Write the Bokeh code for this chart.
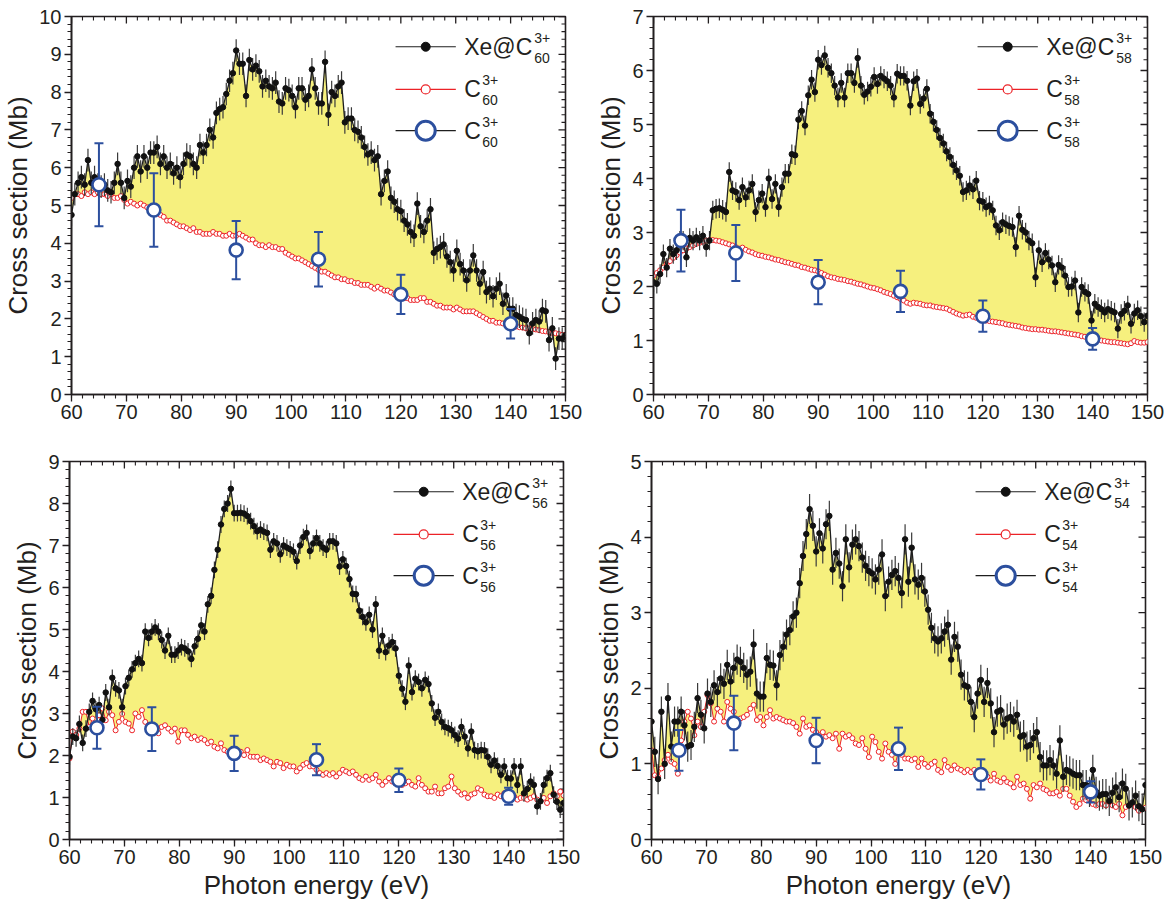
from bokeh.plotting import figure
from bokeh.models import Range1d, FixedTicker, Label
from bokeh.layouts import column, row
from bokeh.embed import file_html
from bokeh.resources import INLINE

# ---------------- data ----------------
E_START = 60.0
E_STEP = 0.6   # eV between successive measured points

# Xe@C60 3+ (Mb), one row = 3 eV
xe_c60 = [4.75, 5.30, 5.60, 5.75, 5.55,
          6.20, 5.60, 5.75, 5.55, 5.50,
          5.55, 5.40, 5.35, 5.60, 6.10,
          5.60, 5.20, 5.65, 5.50, 6.00,
          6.30, 5.90, 6.30, 6.00, 6.40,
          6.40, 6.55, 6.10, 6.30, 6.00,
          6.10, 5.85, 6.00, 5.75, 6.10,
          6.35, 6.30, 6.10, 6.00, 6.60,
          6.40, 6.60, 7.00, 6.80, 7.45,
          7.55, 7.60, 7.95, 8.30, 8.50,
          9.10, 8.75, 8.75, 7.90, 8.85,
          8.60, 8.70, 8.55, 8.15, 8.30,
          8.15, 8.10, 8.25, 7.75, 7.70,
          8.10, 8.05, 7.90, 7.60, 8.10,
          8.10, 7.80, 7.90, 8.60, 8.10,
          7.70, 7.70, 8.80, 7.40, 8.00,
          7.90, 8.15, 8.25, 7.20, 7.30,
          7.30, 7.00, 6.95, 6.80, 6.55,
          6.35, 6.40, 6.20, 6.30, 5.30,
          5.65, 5.90, 5.20, 5.10, 4.90,
          4.85, 4.60, 4.50, 4.30, 4.20,
          5.05, 4.45, 4.30, 4.60, 4.90,
          3.75, 3.85, 3.90, 3.97, 3.65,
          3.50, 3.28, 3.80, 3.45, 3.28,
          3.02, 3.28, 3.68, 3.28, 2.93,
          3.24, 2.71, 2.80, 2.60, 2.80,
          2.93, 2.40, 2.62, 2.27, 2.27,
          2.10, 2.06, 2.00, 1.97, 1.62,
          1.88, 1.97, 1.93, 2.23, 2.20,
          1.44, 1.75, 0.95, 1.48, 1.48,
          1.57]
c60 = [5.20, 5.30, 5.30, 5.25, 5.35,
       5.30, 5.35, 5.30, 5.35, 5.30,
       5.30, 5.25, 5.30, 5.20, 5.20,
       5.25, 5.15, 5.05, 5.10, 5.05,
       5.00, 5.05, 5.00, 4.95, 4.95,
       4.90, 4.80, 4.75, 4.70, 4.60,
       4.60, 4.55, 4.50, 4.45, 4.45,
       4.40, 4.35, 4.40, 4.30, 4.30,
       4.25, 4.25, 4.25, 4.30, 4.25,
       4.25, 4.20, 4.20, 4.25, 4.20,
       4.20, 4.25, 4.20, 4.15, 4.10,
       4.10, 4.00, 3.95, 3.95, 3.90,
       3.95, 3.90, 3.90, 3.85, 3.85,
       3.75, 3.70, 3.65, 3.60, 3.60,
       3.55, 3.50, 3.45, 3.40, 3.35,
       3.30, 3.25, 3.25, 3.20, 3.15,
       3.10, 3.10, 3.05, 3.05, 3.00,
       3.00, 2.95, 2.95, 2.90, 2.90,
       2.90, 2.85, 2.80, 2.85, 2.80,
       2.75, 2.75, 2.70, 2.65, 2.65,
       2.60, 2.55, 2.55, 2.50, 2.50,
       2.50, 2.55, 2.55, 2.45, 2.45,
       2.40, 2.35, 2.35, 2.30, 2.30,
       2.30, 2.25, 2.30, 2.25, 2.20,
       2.20, 2.20, 2.20, 2.15, 2.10,
       2.05, 2.00, 1.95, 1.95, 1.90,
       1.90, 1.88, 1.90, 1.85, 1.83,
       1.80, 1.78, 1.77, 1.75, 1.75,
       1.73, 1.72, 1.70, 1.68, 1.67,
       1.65, 1.63, 1.62, 1.60, 1.58,
       1.57]

xe_c58 = [2.08, 2.05, 2.23, 2.60, 2.35,
          2.70, 2.60, 2.67, 2.85, 2.85,
          2.54, 2.90, 2.85, 2.91, 2.85,
          2.94, 2.73, 2.85, 3.41, 3.44,
          3.45, 3.42, 3.38, 4.12, 3.78,
          3.75, 3.60, 3.84, 3.65, 3.78,
          3.90, 3.38, 3.60, 3.72, 3.47,
          4.00, 3.62, 3.90, 3.47, 3.84,
          4.09, 4.09, 4.45, 4.43, 5.09,
          5.25, 4.98, 5.54, 5.83, 5.60,
          6.20, 6.10, 6.28, 6.05, 5.95,
          5.72, 5.50, 5.77, 5.50, 5.95,
          5.95, 5.77, 6.23, 5.72, 5.55,
          5.61, 5.70, 5.88, 5.75, 5.90,
          5.85, 5.80, 5.72, 5.50, 5.94,
          5.90, 5.90, 5.81, 5.35, 5.80,
          5.85, 5.38, 5.48, 5.66, 5.20,
          5.05, 4.90, 4.75, 4.65, 4.50,
          4.40, 4.25, 4.15, 4.05, 3.75,
          3.78, 3.87, 3.80, 3.96, 3.59,
          3.57, 3.47, 3.50, 3.41, 3.13,
          3.04, 3.19, 3.15, 3.12, 3.10,
          2.73, 3.31, 3.05, 3.00, 2.85,
          2.80, 2.17, 2.67, 2.45, 2.62,
          2.50, 2.39, 2.08, 2.40, 2.35,
          2.20, 1.99, 2.00, 2.11, 1.52,
          1.99, 1.90, 1.86, 1.37, 1.68,
          1.62, 1.58, 1.52, 1.58, 1.55,
          1.52, 1.22, 1.49, 1.55, 1.65,
          1.31, 1.50, 1.56, 1.45, 1.34,
          1.46]
c58 = [2.20, 2.25, 2.30, 2.35, 2.42,
       2.47, 2.53, 2.58, 2.63, 2.67,
       2.70, 2.73, 2.76, 2.79, 2.81,
       2.83, 2.85, 2.86, 2.86, 2.85,
       2.84, 2.82, 2.80, 2.78, 2.76,
       2.73, 2.70, 2.72, 2.68, 2.65,
       2.63, 2.60, 2.58, 2.57, 2.55,
       2.54, 2.52, 2.50, 2.49, 2.47,
       2.45, 2.44, 2.42, 2.40, 2.39,
       2.36, 2.35, 2.33, 2.31, 2.30,
       2.28, 2.25, 2.22, 2.19, 2.17,
       2.16, 2.14, 2.13, 2.12, 2.10,
       2.09, 2.07, 2.05, 2.04, 2.02,
       2.00, 1.98, 1.97, 1.95, 1.93,
       1.90, 1.88, 1.86, 1.83, 1.80,
       1.77, 1.74, 1.70, 1.68, 1.70,
       1.69, 1.68, 1.66, 1.65, 1.65,
       1.63, 1.62, 1.61, 1.60, 1.59,
       1.56, 1.53, 1.50, 1.48, 1.46,
       1.47, 1.48, 1.44, 1.42, 1.40,
       1.39, 1.37, 1.36, 1.35, 1.34,
       1.33, 1.32, 1.30, 1.29, 1.28,
       1.27, 1.26, 1.24, 1.23, 1.22,
       1.21, 1.21, 1.20, 1.20, 1.19,
       1.18, 1.17, 1.17, 1.16, 1.15,
       1.14, 1.13, 1.12, 1.11, 1.10,
       1.08, 1.07, 1.06, 1.04, 1.03,
       1.02, 1.00, 0.99, 0.98, 0.97,
       0.97, 0.96, 0.95, 0.94, 0.93,
       0.95, 0.99, 0.97, 0.96, 0.96,
       0.97]

xe_c56 = [1.97, 2.45, 2.41, 2.75, 2.30,
          2.64, 3.04, 3.30, 3.10, 3.20,
          2.85, 3.50, 3.15, 3.85, 3.60,
          3.55, 3.15, 3.65, 3.85, 4.05,
          4.20, 4.30, 4.20, 4.95, 4.80,
          4.95, 5.05, 4.95, 4.75, 4.50,
          4.85, 4.40, 4.40, 4.50, 4.58,
          4.55, 4.48, 4.30, 4.60, 4.78,
          5.10, 4.95, 5.60, 5.80, 6.42,
          6.90, 7.50, 7.87, 8.00, 8.35,
          7.77, 7.77, 7.78, 7.76, 7.70,
          7.58, 7.46, 7.34, 7.38, 7.33,
          7.30, 6.90, 7.10, 7.05, 6.79,
          7.00, 6.95, 6.91, 6.85, 6.63,
          7.00, 7.20, 7.30, 6.87, 7.05,
          7.18, 7.05, 6.95, 6.90, 7.10,
          7.10, 7.05, 6.50, 6.67, 6.51,
          6.20, 5.85, 5.84, 5.45, 5.30,
          5.17, 5.35, 5.00, 5.60, 4.50,
          4.85, 4.46, 4.62, 4.70, 4.55,
          3.90, 3.59, 3.28, 4.14, 3.51,
          3.83, 3.75, 3.60, 3.80, 3.70,
          3.24, 2.90, 3.04, 2.80, 2.68,
          2.65, 2.60, 2.49, 2.40, 2.68,
          2.45, 2.17, 2.57, 2.13, 2.10,
          2.13, 2.12, 1.97, 1.78, 1.88,
          1.75, 1.54, 1.74, 1.46, 1.45,
          1.74, 1.30, 1.74, 1.10, 1.20,
          1.38, 1.30, 0.79, 0.91, 1.30,
          1.46, 1.58, 1.07, 0.90, 0.71,
          0.87]
c56 = [1.93, 2.57, 2.49, 2.64, 3.04,
       3.04, 2.68, 2.88, 2.76, 2.96,
       3.12, 2.84, 3.04, 2.96, 2.60,
       2.80, 2.99, 2.80, 2.76, 2.60,
       3.00, 2.92, 3.08, 2.80, 2.72,
       2.64, 2.64, 2.53, 2.68, 2.72,
       2.64, 2.57, 2.64, 2.33, 2.60,
       2.60, 2.49, 2.41, 2.45, 2.37,
       2.41, 2.37, 2.29, 2.33, 2.21,
       2.17, 2.29, 2.13, 2.09, 2.05,
       2.07, 2.05, 2.09, 2.01, 2.13,
       1.97, 1.97, 1.97, 1.89, 1.93,
       1.89, 1.85, 1.74, 1.85, 1.82,
       1.70, 1.78, 1.74, 1.74, 1.62,
       1.70, 1.78, 1.82, 1.74, 1.74,
       1.66, 1.58, 1.54, 1.58, 1.54,
       1.58, 1.50, 1.58, 1.66, 1.62,
       1.58, 1.62, 1.54, 1.46, 1.42,
       1.50, 1.42, 1.46, 1.54, 1.38,
       1.30, 1.38, 1.46, 1.38, 1.34,
       1.38, 1.30, 1.34, 1.38, 1.30,
       1.26, 1.46, 1.30, 1.22, 1.14,
       1.14, 1.26, 1.10, 1.10, 1.22,
       1.26, 1.50, 1.22, 1.14, 1.07,
       1.10, 0.99, 1.07, 1.10, 1.22,
       1.18, 1.07, 1.03, 1.03, 0.99,
       1.07, 1.03, 1.10, 1.07, 1.03,
       1.03, 0.95, 0.99, 0.99, 0.95,
       0.99, 1.03, 0.95, 0.91, 0.99,
       0.87, 1.03, 1.10, 1.03, 1.14,
       1.05]

xe_c54 = [1.56, 1.16, 0.80, 1.69, 1.00,
          1.87, 1.23, 1.56, 1.56, 1.69,
          1.51, 1.23, 1.25, 1.49, 1.87,
          1.65, 1.47, 1.93, 1.82, 2.04,
          1.95, 2.13, 2.06, 2.31, 2.09,
          2.27, 2.38, 2.35, 2.27, 2.18,
          2.22, 2.58, 1.93, 1.89, 1.89,
          2.40, 2.31, 2.30, 2.04, 2.44,
          2.55, 2.71, 2.77, 2.95, 3.00,
          3.39, 3.75, 4.04, 4.37, 4.15,
          3.81, 4.05, 3.85, 4.17, 4.28,
          3.57, 3.79, 3.65, 3.35, 3.97,
          3.60, 3.90, 3.97, 3.88, 3.73,
          3.62, 3.55, 3.52, 3.44, 3.57,
          3.77, 3.22, 3.41, 3.50, 3.55,
          3.46, 3.26, 3.97, 3.41, 3.86,
          3.44, 3.37, 3.46, 3.28, 3.04,
          2.80, 2.66, 2.62, 2.66, 2.75,
          2.84, 2.38, 2.68, 2.55, 2.18,
          2.04, 2.02, 1.82, 1.62, 1.93,
          2.11, 1.82, 2.07, 1.80, 1.42,
          1.69, 1.71, 1.52, 1.60, 1.62,
          1.56, 1.65, 1.36, 1.38, 1.23,
          1.25, 1.34, 1.42, 1.09, 0.98,
          0.98, 1.05, 0.98, 0.87, 1.31,
          0.83, 0.92, 0.90, 0.87, 0.85,
          0.85, 0.72, 0.72, 0.63, 0.92,
          0.63, 0.58, 0.60, 0.60, 0.51,
          0.62, 0.69, 0.56, 0.74, 0.67,
          0.45, 0.49, 0.58, 0.44, 0.40,
          0.72]
c54 = [1.18, 0.85, 0.83, 0.94, 1.05,
       1.12, 1.03, 1.00, 0.87, 1.31,
       1.56, 1.69, 1.60, 1.38, 1.56,
       1.49, 1.69, 1.91, 1.80, 1.56,
       1.73, 1.69, 1.56, 1.82, 1.73,
       1.69, 1.54, 1.60, 1.62, 1.65,
       1.73, 1.78, 1.58, 1.62, 1.51,
       1.62, 1.71, 1.60, 1.62, 1.60,
       1.58, 1.56, 1.56, 1.54, 1.49,
       1.40, 1.60, 1.49, 1.51, 1.45,
       1.42, 1.38, 1.42, 1.36, 1.38,
       1.34, 1.40, 1.20, 1.40, 1.36,
       1.38, 1.34, 1.27, 1.25, 1.34,
       1.20, 1.09, 1.36, 1.29, 1.16,
       1.07, 1.27, 1.16, 1.12, 1.00,
       1.16, 1.12, 1.07, 1.07, 1.05,
       1.07, 0.96, 1.07, 1.00, 0.96,
       1.00, 1.03, 0.92, 0.89, 1.05,
       0.96, 0.92, 0.98, 0.94, 0.92,
       0.89, 0.92, 0.89, 0.92, 0.87,
       0.87, 0.85, 0.83, 0.78, 0.87,
       0.78, 0.76, 0.81, 0.76, 0.74,
       0.69, 0.83, 0.72, 0.74, 0.67,
       0.54, 0.72, 0.69, 0.74, 0.67,
       0.65, 0.61, 0.61, 0.63, 0.58,
       0.67, 0.67, 0.58, 0.50, 0.43,
       0.47, 0.54, 0.52, 0.54, 0.47,
       0.45, 0.47, 0.47, 0.45, 0.50,
       0.45, 0.43, 0.47, 0.32, 0.43,
       0.45, 0.47, 0.43, 0.38, 0.41,
       0.42]

# typical uncertainty of the Xe@Cn points in each panel (Mb)
xe_err = [0.30, 0.18, 0.20, 0.20]

# bare-fullerene absolute measurements (large open circles)
abs_energy = [65, 75, 90, 105, 120, 140]
abs_c60 = [5.55, 4.88, 3.82, 3.58, 2.65, 1.87]
abs_c60_err = [1.10, 0.97, 0.77, 0.72, 0.52, 0.39]
abs_c58 = [2.85, 2.62, 2.08, 1.91, 1.45, 1.03]
abs_c58_err = [0.57, 0.52, 0.41, 0.38, 0.29, 0.20]
abs_c56 = [2.66, 2.63, 2.05, 1.90, 1.41, 1.03]
abs_c56_err = [0.50, 0.52, 0.42, 0.37, 0.28, 0.20]
abs_c54 = [1.18, 1.54, 1.31, 1.20, 0.86, 0.63]
abs_c54_err = [0.27, 0.36, 0.30, 0.28, 0.20, 0.14]

sizes = ["60", "58", "56", "54"]
y_max = [10, 7, 9, 5]
x_ticks = [60, 70, 80, 90, 100, 110, 120, 130, 140, 150]

# ---------------- style ----------------
FONT = "Liberation Sans"
INK = "#231f20"
YELLOW = "#f6f07e"
RED = "#ec2227"
BLUE = "#2c4f9e"
FRAME_W, FRAME_H = 494, 378


def style_axis(ax):
    ax.axis_line_color = INK
    ax.axis_line_width = 1.6
    ax.major_tick_line_color = INK
    ax.major_tick_line_width = 1.3
    ax.minor_tick_line_color = INK
    ax.minor_tick_line_width = 1.1
    ax.major_tick_in, ax.major_tick_out = 0, 7
    ax.minor_tick_in, ax.minor_tick_out = 0, 4
    ax.major_label_text_font = FONT
    ax.major_label_text_color = INK
    ax.major_label_text_font_size = "20px"
    ax.major_label_standoff = 3
    ax.axis_label_text_font = FONT
    ax.axis_label_text_font_style = "normal"
    ax.axis_label_text_font_size = "26px"
    ax.axis_label_text_color = INK
    ax.axis_label_standoff = 3


def make_panel(k, black, red, abs_y, abs_err, show_xlabel, left, right):
    ymax = y_max[k]
    p = figure(frame_width=FRAME_W, frame_height=FRAME_H,
               x_range=Range1d(60, 150), y_range=Range1d(0, ymax),
               output_backend="svg", toolbar_location=None,
               min_border_left=left, min_border_right=right,
               min_border_top=16, min_border_bottom=60 if show_xlabel else 51)
    p.xgrid.visible = False
    p.ygrid.visible = False
    p.outline_line_color = INK
    p.outline_line_width = 1.6
    p.background_fill_color = "white"
    p.border_fill_color = "white"

    y_minor = [round(0.2 * i, 1) for i in range(ymax * 5 + 1)]
    x_minor = list(range(60, 151, 2))
    p.xaxis.ticker = FixedTicker(ticks=x_ticks, minor_ticks=x_minor)
    p.yaxis.ticker = FixedTicker(ticks=list(range(0, ymax + 1)), minor_ticks=y_minor)
    style_axis(p.xaxis[0])
    style_axis(p.yaxis[0])
    p.yaxis.axis_label = "Cross section (Mb)"
    if show_xlabel:
        p.xaxis.axis_label = "Photon energy (eV)"

    # inward ticks on the top and right edges of the frame
    dy = ymax / FRAME_H
    dx = 90.0 / FRAME_W
    p.segment(x0=x_ticks, y0=[ymax] * len(x_ticks), x1=x_ticks,
              y1=[ymax - 7 * dy] * len(x_ticks), line_color=INK, line_width=1.3)
    xm = [v for v in x_minor if v not in x_ticks]
    p.segment(x0=xm, y0=[ymax] * len(xm), x1=xm, y1=[ymax - 4 * dy] * len(xm),
              line_color=INK, line_width=1.1)
    yM = list(range(0, ymax + 1))
    p.segment(x0=[150] * len(yM), y0=yM, x1=[150 - 7 * dx] * len(yM), y1=yM,
              line_color=INK, line_width=1.3)
    ym = [v for v in y_minor if v not in yM]
    p.segment(x0=[150] * len(ym), y0=ym, x1=[150 - 4 * dx] * len(ym), y1=ym,
              line_color=INK, line_width=1.1)

    E = [round(E_START + E_STEP * i, 1) for i in range(len(black))]
    Er = [round(E_START + E_STEP * i, 1) for i in range(len(red))]
    n = min(len(black), len(red))

    # yellow area between the two curves
    p.varea(x=E[:n], y1=red[:n], y2=black[:n], fill_color=YELLOW)

    # bare fullerene (red)
    p.line(Er, red, line_color=RED, line_width=1.0)
    p.scatter(Er, red, marker="circle", size=5, line_color=RED,
              fill_color="white", line_width=1.0)

    # Xe@Cn (black)
    e = xe_err[k]
    p.segment(x0=E, y0=[v - e for v in black], x1=E, y1=[v + e for v in black],
              line_color="#3a3a3a", line_width=1.2)
    p.line(E, black, line_color="#1e1e1e", line_width=1.3)
    p.scatter(E, black, marker="circle", size=5.5, line_color="#111111",
              fill_color="#111111")

    # absolute measurements (blue)
    lo = [v - d for v, d in zip(abs_y, abs_err)]
    hi = [v + d for v, d in zip(abs_y, abs_err)]
    p.segment(x0=abs_energy, y0=lo, x1=abs_energy, y1=hi,
              line_color=BLUE, line_width=2)
    p.scatter(abs_energy, lo, marker="dash", size=9, line_color=BLUE, line_width=2)
    p.scatter(abs_energy, hi, marker="dash", size=9, line_color=BLUE, line_width=2)
    p.scatter(abs_energy, abs_y, marker="circle", size=13, line_color=BLUE,
              fill_color="white", line_width=2.6)

    # legend (drawn by hand to allow sub/superscripts)
    x0, x1 = 60.0, 150.0
    lx0 = x0 + 0.656 * (x1 - x0)
    lx1 = x0 + 0.778 * (x1 - x0)
    lxm = x0 + 0.717 * (x1 - x0)
    ltx = x0 + 0.795 * (x1 - x0)
    rows = [ymax * (1 - f) for f in (0.080, 0.193, 0.302)]
    sub = sizes[k]

    p.line([lx0, lx1], [rows[0]] * 2, line_color="#1e1e1e", line_width=1.2)
    p.scatter([lxm], [rows[0]], marker="circle", size=9, fill_color="#111111",
              line_color="#111111")
    p.line([lx0, lx1], [rows[1]] * 2, line_color=RED, line_width=1.2)
    p.scatter([lxm], [rows[1]], marker="circle", size=9, fill_color="white",
              line_color=RED, line_width=1.2)
    p.line([lx0, lx1], [rows[2]] * 2, line_color="#1e1e1e", line_width=1.2)
    p.scatter([lxm], [rows[2]], marker="circle", size=19, fill_color="white",
              line_color=BLUE, line_width=3)

    for r, main, off in ((rows[0], "Xe@C", 70), (rows[1], "C", 18), (rows[2], "C", 18)):
        p.add_layout(Label(x=ltx, y=r, text=main, text_font=FONT,
                           text_font_size="23px", text_color=INK,
                           text_baseline="middle"))
        p.add_layout(Label(x=ltx, y=r, x_offset=off, y_offset=9, text="3+",
                           text_font=FONT, text_font_size="14px",
                           text_color=INK, text_baseline="middle"))
        p.add_layout(Label(x=ltx, y=r, x_offset=off, y_offset=-11, text=sub,
                           text_font=FONT, text_font_size="14px",
                           text_color=INK, text_baseline="middle"))
    return p


p1 = make_panel(0, xe_c60, c60, abs_c60, abs_c60_err, False, 69, 19)
p2 = make_panel(1, xe_c58, c58, abs_c58, abs_c58_err, False, 69, 20)
p3 = make_panel(2, xe_c56, c56, abs_c56, abs_c56_err, True, 69, 19)
p4 = make_panel(3, xe_c54, c54, abs_c54, abs_c54_err, True, 69, 20)

layout = column(row(p1, p2), row(p3, p4))
open("out.html", "w").write(file_html(layout, INLINE))
